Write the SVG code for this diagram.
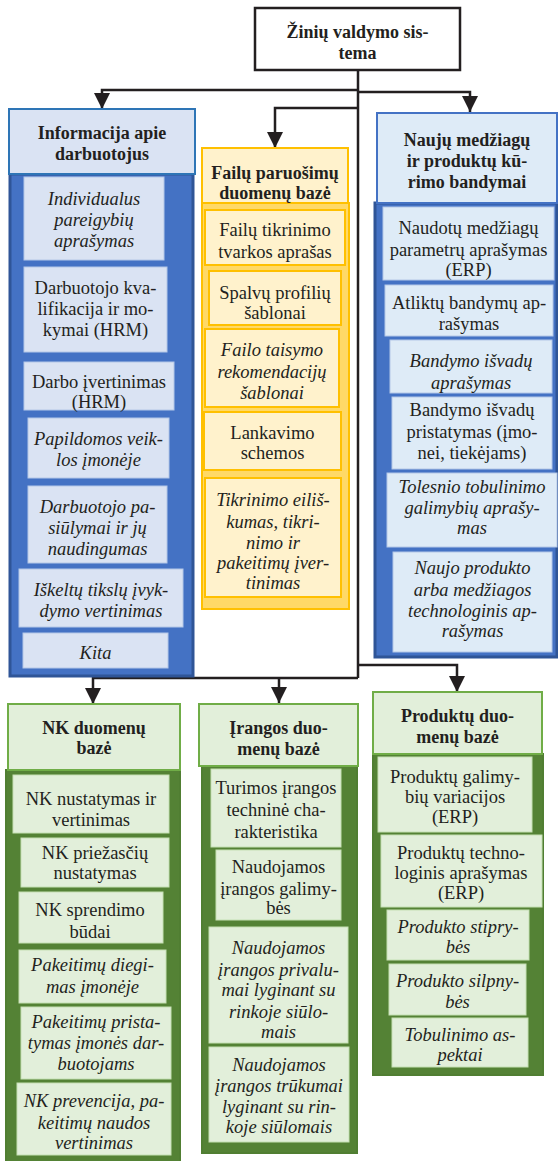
<svg xmlns="http://www.w3.org/2000/svg" width="558" height="1161" viewBox="0 0 558 1161" font-family="Liberation Serif, DejaVu Serif, serif">
<defs>
<marker id="ah" viewBox="0 0 16 16" refX="16" refY="8" markerWidth="16" markerHeight="16" markerUnits="userSpaceOnUse" orient="auto">
<path d="M0,0 L16,8 L0,16 Z" fill="#231f20"/>
</marker>
<style>
text{font-family:"Liberation Serif",serif;font-size:18.5px;fill:#231f20;text-anchor:middle}
.b{font-weight:bold;font-size:18px}
.i{font-style:italic}
.root{fill:#fff;stroke:#231f20;stroke-width:2.5}
.bh{fill:#dae3f3;stroke:#2e75b6;stroke-width:2}
.bh2{fill:#deebf7;stroke:#4472c4;stroke-width:2}
.bb{fill:#4472c4;stroke:#2f5597;stroke-width:3}
.bi{fill:#dae3f3;stroke:#b4c7e7;stroke-width:1}
.bi2{fill:#deebf7;stroke:#b4c7e7;stroke-width:1}
.yh{fill:#fff2cc;stroke:#ffc000;stroke-width:2}
.yb{fill:#ffd966;stroke:#ffc000;stroke-width:2}
.yi{fill:#fff2cc;stroke:#ffc000;stroke-width:2}
.gh{fill:#e2efda;stroke:#70ad47;stroke-width:2}
.gb{fill:#548235;stroke:#507e32;stroke-width:2}
.gi{fill:#e2efda;stroke:#c5e0b4;stroke-width:1}
.c{fill:none;stroke:#231f20;stroke-width:2.5}
</style>
</defs>

<g id="connectors">
<path class="c" d="M358,70 V678"/>
<path class="c" d="M358,90 H102 V109" marker-end="url(#ah)"/>
<path class="c" d="M358,92 H470 V112" marker-end="url(#ah)"/>
<path class="c" d="M358,108 H275 V148" marker-end="url(#ah)"/>
<path class="c" d="M358,678 H93 V704" marker-end="url(#ah)"/>
<path class="c" d="M279,678 V703" marker-end="url(#ah)"/>
<path class="c" d="M358,665 H457 V692" marker-end="url(#ah)"/>
</g>

<g id="root">
<rect class="root" x="255" y="8" width="205" height="62"/>
<text class="b"><tspan x="357.5" y="38">Žinių valdymo sis-</tspan><tspan x="357.5" y="59">tema</tspan></text>
</g>

<g id="info-darbuotojus">
<rect class="bb" x="10" y="174" width="183" height="502"/>
<rect class="bh" x="9" y="109" width="186" height="65"/>
<text class="b"><tspan x="102" y="139">Informacija apie</tspan><tspan x="102" y="160">darbuotojus</tspan></text>
<rect class="bi" x="24" y="177" width="140" height="83"/>
<text class="i"><tspan x="94" y="205">Individualus</tspan><tspan x="94" y="226">pareigybių</tspan><tspan x="94" y="247">aprašymas</tspan></text>
<rect class="bi" x="24" y="267" width="143" height="85"/>
<text><tspan x="95.5" y="294">Darbuotojo kva-</tspan><tspan x="95.5" y="315">lifikacija ir mo-</tspan><tspan x="95.5" y="336">kymai (HRM)</tspan></text>
<rect class="bi" x="24" y="362" width="150" height="48"/>
<text><tspan x="99" y="388">Darbo įvertinimas</tspan><tspan x="99" y="408">(HRM)</tspan></text>
<rect class="bi" x="28" y="418" width="141" height="60"/>
<text class="i"><tspan x="98.5" y="445">Papildomos veik-</tspan><tspan x="98.5" y="466">los įmonėje</tspan></text>
<rect class="bi" x="28" y="486" width="139" height="77"/>
<text class="i"><tspan x="97.5" y="513">Darbuotojo pa-</tspan><tspan x="97.5" y="534">siūlymai ir jų</tspan><tspan x="97.5" y="555">naudingumas</tspan></text>
<rect class="bi" x="19" y="569" width="164" height="58"/>
<text class="i"><tspan x="101" y="596">Iškeltų tikslų įvyk-</tspan><tspan x="101" y="617">dymo vertinimas</tspan></text>
<rect class="bi" x="23" y="633" width="145" height="35"/>
<text class="i"><tspan x="95.5" y="659">Kita</tspan></text>
</g>

<g id="failu-db">
<rect class="yb" x="202" y="203" width="147" height="406"/>
<rect class="yh" x="202" y="148" width="146" height="55"/>
<text class="b"><tspan x="275" y="179">Failų paruošimų</tspan><tspan x="275" y="199">duomenų bazė</tspan></text>
<rect class="yi" x="205" y="210" width="140" height="55"/>
<text><tspan x="275" y="236">Failų tikrinimo</tspan><tspan x="275" y="258">tvarkos aprašas</tspan></text>
<rect class="yi" x="209" y="271" width="132" height="54"/>
<text><tspan x="275" y="299">Spalvų profilių</tspan><tspan x="275" y="319">šablonai</tspan></text>
<rect class="yi" x="205" y="329" width="134" height="78"/>
<text class="i"><tspan x="272" y="356">Failo taisymo</tspan><tspan x="272" y="378">rekomendacijų</tspan><tspan x="272" y="399">šablonai</tspan></text>
<rect class="yi" x="204" y="412" width="137" height="58"/>
<text><tspan x="272.5" y="439">Lankavimo</tspan><tspan x="272.5" y="459">schemos</tspan></text>
<rect class="yi" x="205" y="478" width="136" height="119"/>
<text class="i"><tspan x="273" y="506">Tikrinimo eiliš-</tspan><tspan x="273" y="528">kumas, tikri-</tspan><tspan x="273" y="549">nimo ir</tspan><tspan x="273" y="569">pakeitimų įver-</tspan><tspan x="273" y="589">tinimas</tspan></text>
</g>

<g id="bandymai">
<rect class="bb" x="375" y="203" width="182" height="454"/>
<rect class="bh2" x="377" y="113" width="180" height="90"/>
<text class="b"><tspan x="467" y="146">Naujų medžiagų</tspan><tspan x="467" y="167">ir produktų kū-</tspan><tspan x="467" y="188">rimo bandymai</tspan></text>
<rect class="bi2" x="383" y="207" width="171" height="73"/>
<text><tspan x="468.5" y="234">Naudotų medžiagų</tspan><tspan x="468.5" y="256">parametrų aprašymas</tspan><tspan x="468.5" y="276">(ERP)</tspan></text>
<rect class="bi2" x="385" y="285" width="168" height="51"/>
<text><tspan x="469" y="309">Atliktų bandymų ap-</tspan><tspan x="469" y="330">rašymas</tspan></text>
<rect class="bi2" x="390" y="340" width="162" height="53"/>
<text class="i"><tspan x="471" y="367">Bandymo išvadų</tspan><tspan x="471" y="389">aprašymas</tspan></text>
<rect class="bi2" x="392" y="397" width="160" height="72"/>
<text><tspan x="472" y="416">Bandymo išvadų</tspan><tspan x="472" y="438">pristatymas (įmo-</tspan><tspan x="472" y="459">nei, tiekėjams)</tspan></text>
<rect class="bi2" x="387" y="473" width="170" height="74"/>
<text class="i"><tspan x="472" y="493">Tolesnio tobulinimo</tspan><tspan x="472" y="514">galimybių aprašy-</tspan><tspan x="472" y="534">mas</tspan></text>
<rect class="bi2" x="393" y="552" width="159" height="100"/>
<text class="i"><tspan x="472.5" y="574">Naujo produkto</tspan><tspan x="472.5" y="596">arba medžiagos</tspan><tspan x="472.5" y="617">technologinis ap-</tspan><tspan x="472.5" y="637">rašymas</tspan></text>
</g>

<g id="nk-db">
<rect class="gb" x="6" y="770" width="174" height="392"/>
<rect class="gh" x="8" y="704" width="172" height="66"/>
<text class="b"><tspan x="94" y="734">NK duomenų</tspan><tspan x="94" y="754">bazė</tspan></text>
<rect class="gi" x="13" y="775" width="156" height="58"/>
<text><tspan x="91" y="805">NK nustatymas ir</tspan><tspan x="91" y="826">vertinimas</tspan></text>
<rect class="gi" x="21" y="838" width="148" height="49"/>
<text><tspan x="95" y="859">NK priežasčių</tspan><tspan x="95" y="879">nustatymas</tspan></text>
<rect class="gi" x="19" y="892" width="144" height="51"/>
<text><tspan x="90" y="916">NK sprendimo</tspan><tspan x="90" y="938">būdai</tspan></text>
<rect class="gi" x="19" y="950" width="147" height="53"/>
<text class="i"><tspan x="92.5" y="971">Pakeitimų diegi-</tspan><tspan x="92.5" y="993">mas įmonėje</tspan></text>
<rect class="gi" x="21" y="1007" width="150" height="72"/>
<text class="i"><tspan x="96" y="1028">Pakeitimų prista-</tspan><tspan x="96" y="1049">tymas įmonės dar-</tspan><tspan x="96" y="1070">buotojams</tspan></text>
<rect class="gi" x="17" y="1083" width="154" height="72"/>
<text class="i"><tspan x="94" y="1107">NK prevencija, pa-</tspan><tspan x="94" y="1129">keitimų naudos</tspan><tspan x="94" y="1149">vertinimas</tspan></text>
</g>

<g id="irangos-db">
<rect class="gb" x="202" y="766" width="155" height="387"/>
<rect class="gh" x="199" y="704" width="159" height="62"/>
<text class="b"><tspan x="278.5" y="734">Įrangos duo-</tspan><tspan x="278.5" y="755">menų bazė</tspan></text>
<rect class="gi" x="211" y="769" width="130" height="78"/>
<text><tspan x="276" y="794">Turimos įrangos</tspan><tspan x="276" y="816">techninė cha-</tspan><tspan x="276" y="838">rakteristika</tspan></text>
<rect class="gi" x="216" y="850" width="125" height="70"/>
<text><tspan x="278.5" y="873">Naudojamos</tspan><tspan x="278.5" y="895">įrangos galimy-</tspan><tspan x="278.5" y="914">bės</tspan></text>
<rect class="gi" x="209" y="927" width="139" height="116"/>
<text class="i"><tspan x="278.5" y="954">Naudojamos</tspan><tspan x="278.5" y="976">įrangos privalu-</tspan><tspan x="278.5" y="996">mai lyginant su</tspan><tspan x="278.5" y="1018">rinkoje siūlo-</tspan><tspan x="278.5" y="1038">mais</tspan></text>
<rect class="gi" x="209" y="1047" width="140" height="95"/>
<text class="i"><tspan x="279" y="1071">Naudojamos</tspan><tspan x="279" y="1092">įrangos trūkumai</tspan><tspan x="279" y="1113">lyginant su rin-</tspan><tspan x="279" y="1133">koje siūlomais</tspan></text>
</g>

<g id="produktu-db">
<rect class="gb" x="373" y="754" width="170" height="321"/>
<rect class="gh" x="373" y="692" width="169" height="62"/>
<text class="b"><tspan x="457.5" y="722">Produktų duo-</tspan><tspan x="457.5" y="743">menų bazė</tspan></text>
<rect class="gi" x="378" y="757" width="154" height="75"/>
<text><tspan x="455" y="783">Produktų galimy-</tspan><tspan x="455" y="803">bių variacijos</tspan><tspan x="455" y="823">(ERP)</tspan></text>
<rect class="gi" x="381" y="835" width="161" height="72"/>
<text><tspan x="461" y="859">Produktų techno-</tspan><tspan x="461" y="879">loginis aprašymas</tspan><tspan x="461" y="899">(ERP)</tspan></text>
<rect class="gi" x="387" y="910" width="142" height="50"/>
<text class="i"><tspan x="458" y="933">Produkto stipry-</tspan><tspan x="458" y="953">bės</tspan></text>
<rect class="gi" x="389" y="964" width="137" height="51"/>
<text class="i"><tspan x="457.5" y="987">Produkto silpny-</tspan><tspan x="457.5" y="1008">bės</tspan></text>
<rect class="gi" x="392" y="1018" width="136" height="49"/>
<text class="i"><tspan x="460" y="1041">Tobulinimo as-</tspan><tspan x="460" y="1061">pektai</tspan></text>
</g>
</svg>
